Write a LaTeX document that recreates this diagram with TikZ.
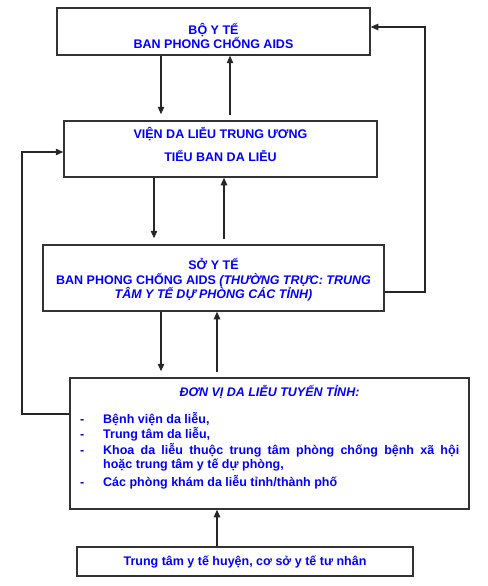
\documentclass[tikz,border=0pt]{standalone}
\usepackage{fontspec}
\setmainfont{Liberation Sans}
\usetikzlibrary{arrows,arrows.meta}

\begin{document}
\begin{tikzpicture}[x=1pt, y=-1pt,
    unit/.style={draw=black!80, line width=1.5pt, rectangle, align=center, text=blue,
        font=\fontsize{12.5}{14.5}\selectfont\bfseries},
    unittext/.style={inner sep=0pt, align=center, text=blue, font=\fontsize{12.5}{14.5}\selectfont\bfseries},
    link/.style={-{Triangle[length=7.5pt,width=6.5pt]}, draw=black!85, line width=1.2pt}]
    \useasboundingbox (0,0) rectangle (487,586);

    % Ministry
    \node[unit, minimum width=313pt, minimum height=47pt] (bo) at (213.5,31.5) {};
    \node[unittext] (botext) at (213.5,36) {BỘ Y TẾ\\BAN PHONG CHỐNG AIDS};

    % Central institute
    \node[unit, minimum width=313pt, minimum height=56pt] (vien) at (220.5,149) {};
    \node[unittext] (vientext) at (220.5,144.5) {VIỆN DA LIỄU TRUNG ƯƠNG\\[8pt]TIỂU BAN DA LIỄU};

    % Provincial health service
    \node[unit, minimum width=341pt, minimum height=66pt] (so) at (213.5,278) {};
    \node[unittext] (sotext) at (213.5,280)
        {SỞ Y TẾ\\BAN PHONG CHỐNG AIDS \textit{(THƯỜNG TRỰC: TRUNG}\\\textit{TÂM Y TẾ DỰ PHÒNG CÁC TỈNH)}};

    % Provincial dermatology units
    \node[unit, minimum width=399pt, minimum height=131pt] (donvi) at (269.5,443.5) {};
    \node[unittext] (donvititle) at (269.5,392) {\textit{ĐƠN VỊ DA LIỄU TUYẾN TỈNH:}};
    \node[unittext, align=left, anchor=north west, font=\fontsize{12.5}{14.7}\selectfont\bfseries] (donvilist) at (80,412) {%
        \begin{tabular}{@{}p{23pt}@{}l@{}}
        - & Bệnh viện da liễu,\\
        - & Trung tâm da liễu,\\
        - & \makebox[356pt][s]{Khoa da liễu thuộc trung tâm phòng chống bệnh xã hội}\\
          & hoặc trung tâm y tế dự phòng,\\[2pt]
        - & Các phòng khám da liễu tỉnh/thành phố
        \end{tabular}};

    % District level
    \node[unit, minimum width=336pt, minimum height=29pt] (huyen) at (245,561.5) {};
    \node[unittext] (huyentext) at (245,562.5) {Trung tâm y tế huyện, cơ sở y tế tư nhân};

    % Vertical links
    \draw[link, shorten >=6pt] (bo.south -| 161,0) -- (vien.north -| 161,0);
    \draw[link, shorten <=5pt] (vien.north -| 230,0) -- (bo.south -| 230,0);
    \draw[link, shorten >=6pt] (vien.south -| 154,0) -- (so.north -| 154,0);
    \draw[link, shorten <=5pt] (so.north -| 224,0) -- (vien.south -| 224,0);
    \draw[link, shorten >=6pt] (so.south -| 161,0) -- (donvi.north -| 161,0);
    \draw[link, shorten <=5pt] (donvi.north -| 217,0) -- (so.south -| 217,0);
    \draw[link] (huyen.north -| 217,0) -- (donvi.south -| 217,0);

    % Feedback loops
    \draw[link] (so.east |- 0,292) -| (425,27) -- (bo.east |- 0,27);
    \draw[link] (donvi.west |- 0,414) -| (22,152) -- (vien.west |- 0,152);
\end{tikzpicture}
\end{document}
